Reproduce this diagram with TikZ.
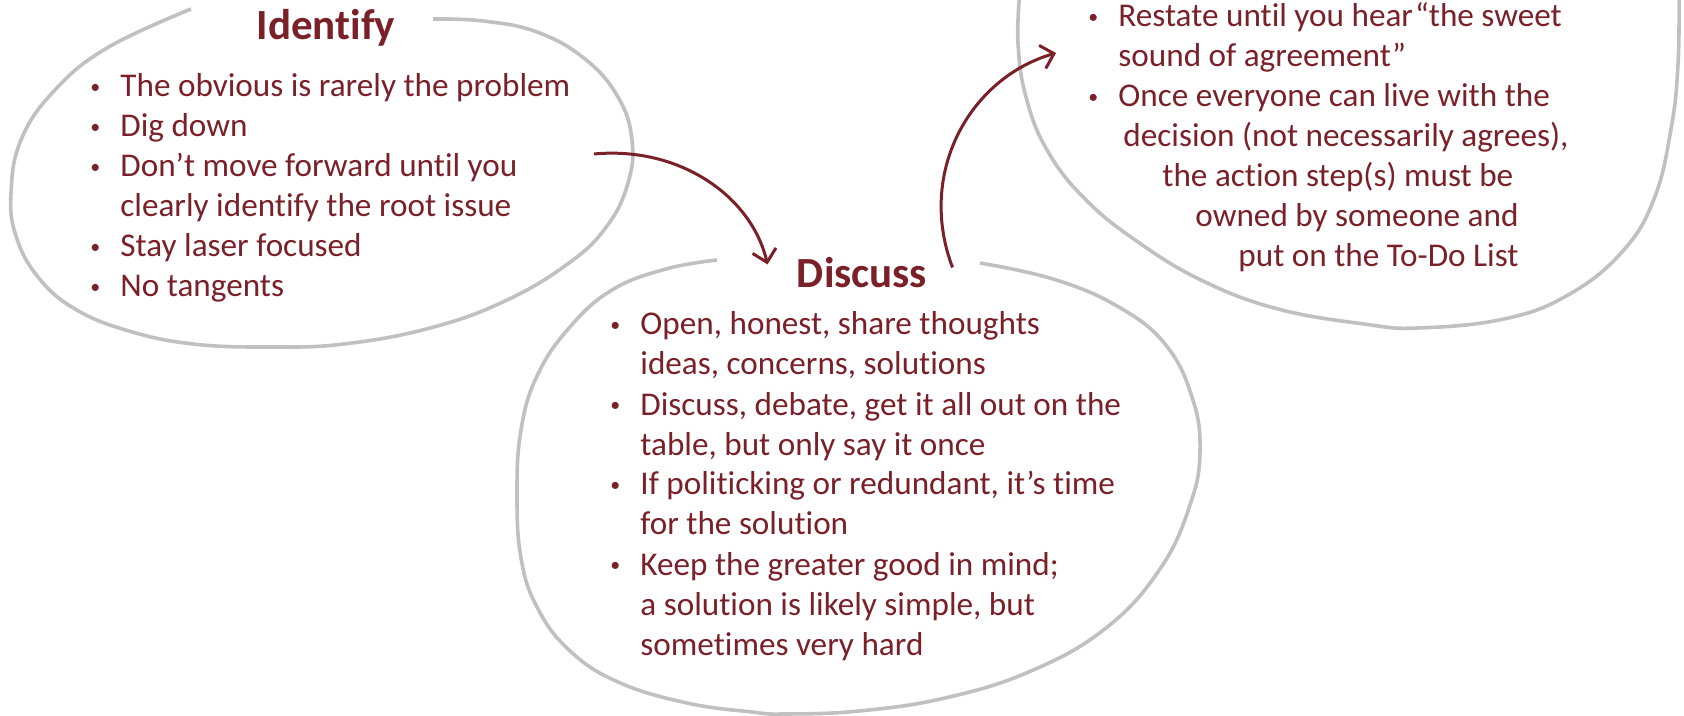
\documentclass[tikz,border=0pt]{standalone}
\usepackage{fontspec}
\setmainfont[RawFeature={-liga;-clig;-calt;-dlig}]{Carlito}
\usetikzlibrary{arrows.meta}
\definecolor{wine}{RGB}{122,32,40}
\definecolor{bubblegray}{RGB}{192,192,192}
\tikzset{
  bubble/.style={draw=bubblegray, line width=1.8pt},
  flow/.style={draw=wine, line width=1.5pt, -{Straight Barb[length=6pt,width=12pt]}},
  heading/.style={text=wine, font=\bfseries\fontsize{21.5}{25}\selectfont, inner sep=0pt, anchor=base},
  listtext/.style={text=wine, font=\fontsize{16.6}{20}\selectfont, inner sep=0pt, anchor=base west},
}
\newcommand{\bitem}{\makebox[15pt][l]{\raisebox{1.8pt}{\scalebox{0.6}{\textbullet}}}}
\newcommand{\bskip}[1]{\hspace*{#1}}
\begin{document}
\begin{tikzpicture}[x=0.5pt,y=-0.5pt]
\useasboundingbox (0,0) rectangle (1684,716);

% bubbles
\draw[bubble] plot[smooth, tension=0.7] coordinates {(433,19) (483,21) (537,32) (585,59) (618,97) (632,140) (628,183) (607,226) (569,263) (505,301) (430,328) (344,344) (269,347) (193,344) (129,331) (75,309) (38,277) (16,236) (11,193) (21,140) (54,91) (107,48) (191,9)};
\draw[bubble] plot[smooth, tension=0.7] coordinates {(717,260) (666,269) (612,290) (569,328) (537,376) (521,430) (517,494) (521,558) (537,607) (569,650) (618,682) (687,703) (752,712) (784,714) (859,711) (945,698) (1031,671) (1106,628) (1160,569) (1190,505) (1200,451) (1192,397) (1165,344) (1117,306) (1053,279) (980,263)};
\draw[bubble] plot[smooth, tension=0.7] coordinates {(1020,-10) (1018,43) (1026,97) (1047,150) (1085,199) (1138,242) (1203,281) (1278,309) (1364,324) (1418,328) (1504,319) (1568,295) (1622,252) (1654,199) (1671,129) (1678,64) (1679,-10)};

% titles
\node[heading] (identify) at (326,40) {Identify};
\node[heading] (discuss) at (862,288) {Discuss};

% lists
\node[listtext] (idlist) at (90,97) {\parbox[t]{280pt}{\raggedright
\bitem The obvious is rarely the problem\\
\bitem Dig down\\
\bitem Don’t move forward until you\\
\bskip{15pt}clearly identify the root issue\\
\bitem Stay laser focused\\
\bitem No tangents}};
\node[listtext] (dislist) at (610,335) {\parbox[t]{280pt}{\raggedright
\bitem Open, honest, share thoughts\\
\bskip{15pt}ideas, concerns, solutions\\
\bitem Discuss, debate, get it all out on the\\
\bskip{15pt}table, but only say it once\\
\bitem If politicking or redundant, it’s time\\
\bskip{15pt}for the solution\\
\bitem Keep the greater good in mind;\\
\bskip{15pt}a solution is likely simple, but\\
\bskip{15pt}sometimes very hard}};
\node[listtext] (agreelist) at (1088,27) {\parbox[t]{280pt}{\raggedright
\bitem Restate until you hear\hspace{1pt}“the sweet\\
\bskip{15pt}sound of agreement”\\
\bitem Once everyone can live with the\\
\bskip{17.5pt}decision (not necessarily agrees),\\
\bskip{37pt}the action step(s) must be\\
\bskip{53.5pt}owned by someone and\\
\bskip{75pt}put on the To-Do List}};

% connectors
\coordinate (idout) at (594,154);
\coordinate (agreein) at (1056,53);
\draw[flow] (idout) .. controls +(86,-8) and +(-16,-68) .. ([shift={(-29,7)}]discuss.north west);
\draw[flow] ([shift={(25,10)}]discuss.north east) .. controls +(-36,-95) and +(-86,25) .. (agreein);
\end{tikzpicture}
\end{document}
